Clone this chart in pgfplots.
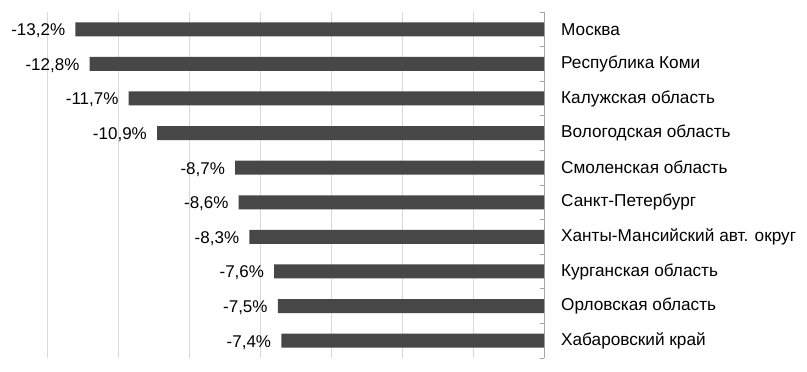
\documentclass[border=0pt]{standalone}
\usepackage{pgfplots}
\pgfplotsset{compat=1.18}
\usepackage{fontspec}
\setmainfont{Liberation Sans}
\definecolor{barc}{RGB}{71,71,71}
\definecolor{gridc}{RGB}{217,217,217}
\definecolor{axc}{RGB}{166,166,166}
\begin{document}
\fontsize{17bp}{20bp}\selectfont
\begin{tikzpicture}
\begin{axis}[
  name=ax,
  scale only axis,
  width=497bp, height=346bp,
  xbar, bar width=14bp,
  xmin=-14, xmax=0,
  ymin=-0.5, ymax=9.5,
  y dir=reverse,
  axis y line=right,
  axis x line=bottom,
  x axis line style={draw=none},
  y axis line style={draw=axc, line width=0.8bp, -},
  xtick={-14,-12,...,-2},
  xticklabels={},
  xtick style={draw=none},
  xmajorgrids,
  major grid style={draw=gridc, line width=0.8bp},
  ytick={0,...,9},
  yticklabels={Москва,Республика Коми,Калужская область,Вологодская область,Смоленская область,Санкт-Петербург,Ханты-Мансийский авт. округ,Курганская область,Орловская область,Хабаровский край},
  yticklabel pos=right,
  ytick style={draw=none},
  yticklabel style={anchor=west, inner sep=0pt, xshift=17bp, font=\fontsize{17.2bp}{20bp}\selectfont},
  minor ytick={-0.5,0.5,...,9.5},
  minor y tick style={draw=axc, line width=0.8bp},
  minor tick length=4bp,
  tick align=inside,
  point meta=x,
  every node near coord/.append style={font=\fontsize{17bp}{20bp}\selectfont},
  nodes near coords={\pgfmathprintnumber[fixed,zerofill,precision=1,use comma,assume math mode=true]{\pgfplotspointmeta}\%},
  nodes near coords style={anchor=east, inner sep=0pt, xshift=-10bp, yshift=-1.5bp, text=black},
  clip=false,
]
\addplot[fill=barc, draw=none] coordinates {
(-13.2,0) (-12.8,1) (-11.7,2) (-10.9,3) (-8.7,4) (-8.6,5) (-8.3,6) (-7.6,7) (-7.5,8) (-7.4,9)
};
\end{axis}
\useasboundingbox ([xshift=-47bp,yshift=-14bp]ax.south west) rectangle ([xshift=263bp,yshift=12bp]ax.north east);
\end{tikzpicture}
\end{document}
